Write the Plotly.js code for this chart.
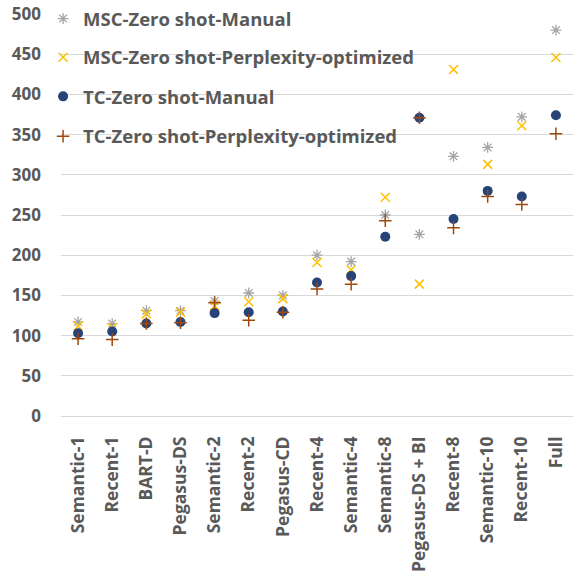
<!DOCTYPE html>
<html>
<head>
<meta charset="utf-8">
<script src="https://cdn.plot.ly/plotly-3.0.1.min.js"></script>
<style>html,body{margin:0;padding:0;background:#fff;}#chart{width:573px;height:575px;}</style>
</head>
<body>
<div id="chart"></div>
<script>
const categories = ["Semantic-1","Recent-1","BART-D","Pegasus-DS","Semantic-2","Recent-2","Pegasus-CD","Recent-4","Semantic-4","Semantic-8","Pegasus-DS + BI","Recent-8","Semantic-10","Recent-10","Full"];
const mscManual = [117,115,131,131,143,153,150,200,192,250,226,323,334,372,480];
const mscPerplexity = [112,110,127,129,137,142,146,191,182,272,164,431,313,361,446];
const tcManual = [103,105,115,117,128,129,130,166,174,223,371,245,280,273,374];
const tcPerplexity = [96,95,115,116,141,119,129,158,164,243,371,234,273,263,351];
const seriesNames = ["MSC-Zero shot-Manual","MSC-Zero shot-Perplexity-optimized","TC-Zero shot-Manual","TC-Zero shot-Perplexity-optimized"];

const FONT = "'Open Sans', 'Liberation Sans', sans-serif";
const TXT = "#595959";

function mk(name, y, symbol, color, size, lw, legend) {
  return {
    type: "scatter", mode: "markers", name: name, x: categories, y: y,
    legend: legend, cliponaxis: false,
    marker: {symbol: symbol, color: color, size: size, line: {color: color, width: lw}}
  };
}

const traces = [
  mk(seriesNames[0], mscManual, "asterisk-open", "#A5A5A5", 9, 1.3, "legend"),
  mk(seriesNames[1], mscPerplexity, "x-thin-open", "#FFC000", 9, 1.5, "legend2"),
  mk(seriesNames[2], tcManual, "circle", "#264478", 10, 0, "legend3"),
  mk(seriesNames[3], tcPerplexity, "cross-thin-open", "#9E480E", 9, 1.5, "legend4")
];

function leg(y) {
  return {x: -0.035, xanchor: "left", y: y, yanchor: "middle", bgcolor: "rgba(0,0,0,0)",
    font: {family: FONT, size: 18.5, color: TXT, weight: 700}, itemwidth: 30};
}

const layout = {
  width: 573, height: 575,
  margin: {l: 61, r: 0, t: 13.3, b: 158.7},
  paper_bgcolor: "#fff", plot_bgcolor: "#fff",
  showlegend: true,
  legend: leg(0.988), legend2: leg(0.889), legend3: leg(0.792), legend4: leg(0.693),
  xaxis: {
    type: "category", range: [-0.5, 14.5], showgrid: false, zeroline: false, showline: false,
    tickangle: -90, ticks: "", ticklabelstandoff: 16,
    tickfont: {family: FONT, size: 17.5, color: TXT, weight: 700}
  },
  yaxis: {
    range: [0, 500], dtick: 50, tick0: 0, showgrid: true, gridcolor: "#D9D9D9", gridwidth: 1,
    zeroline: true, zerolinecolor: "#D9D9D9", zerolinewidth: 1, showline: false, ticks: "",
    ticklabelstandoff: 19,
    tickfont: {family: FONT, size: 17, color: TXT, weight: 700}
  }
};

Plotly.newPlot("chart", traces, layout, {displayModeBar: false, staticPlot: true});
</script>
</body>
</html>
